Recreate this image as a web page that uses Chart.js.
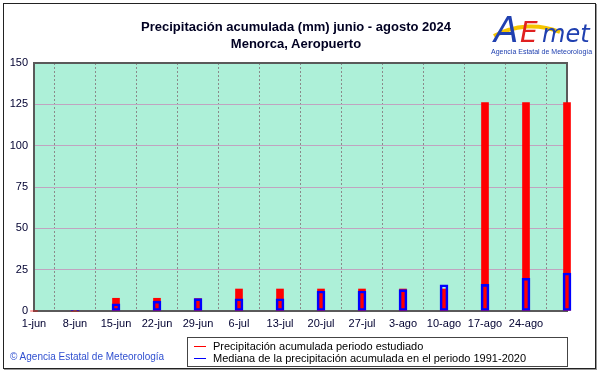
<!DOCTYPE html>
<html>
<head>
<meta charset="utf-8">
<script src="https://cdn.jsdelivr.net/npm/chart.js@4"></script>
<style>
  body { margin: 0; background: #fff; }
  #wrap { position: relative; width: 601px; height: 374px; font-family: "Liberation Sans", Arial, sans-serif; }
  #frame { position: absolute; left: 3px; top: 3px; width: 591px; height: 364px; border: 1px solid #222; box-shadow: 1px 1px 0 #999; }
  #title { position: absolute; left: 0; width: 592px; top: 18px; text-align: center; font-weight: bold; font-size: 13px; line-height: 17px; color: #000022; }
  #legend { position: absolute; left: 187px; top: 337px; width: 379px; height: 28px; border: 1px solid #444; font-size: 11px; color: #000; }
  #legend div { position: absolute; left: 6px; height: 12px; line-height: 12px; }
  #copy { position: absolute; left: 10px; top: 351px; font-size: 10px; color: #3050d0; }
  #logo { position: absolute; left: 488px; top: 4px; }
  canvas { position: absolute; left: 0; top: 0; }
</style>
</head>
<body>
<div id="wrap">
  <canvas id="chart" width="601" height="374"></canvas>
  <div id="frame"></div>
  <div id="title">Precipitación acumulada (mm) junio - agosto 2024<br>Menorca, Aeropuerto</div>
  <svg id="logo" width="106" height="54">
    <path d="M6 32 C28 20, 52 20, 72 28" stroke="#f5c400" stroke-width="4" fill="none"/>
    <text x="6" y="38" font-family="DejaVu Sans" font-style="italic" font-weight="300" font-size="36" fill="#2040b0">A</text>
    <text x="32" y="38" font-family="DejaVu Sans" font-style="italic" font-size="28" fill="#e02020">E</text>
    <text x="54" y="38" font-family="DejaVu Sans" font-style="italic" font-size="24" fill="#2040b0">met</text>
    <text x="3" y="50" font-family="Liberation Sans" font-size="7" fill="#2040b0">Agencia Estatal de Meteorología</text>
  </svg>
  <div id="legend">
    <div style="top:2px"><svg width="12" height="12" style="vertical-align:top;margin-right:7px"><line x1="0" y1="6.5" x2="12" y2="6.5" stroke="#ff0000" stroke-width="1"/></svg>Precipitación acumulada periodo estudiado</div>
    <div style="top:14px"><svg width="12" height="12" style="vertical-align:top;margin-right:7px"><line x1="0" y1="6.5" x2="12" y2="6.5" stroke="#0000ff" stroke-width="1"/></svg>Mediana de la precipitación acumulada en el periodo 1991-2020</div>
  </div>
  <div id="copy">© Agencia Estatal de Meteorología</div>
</div>
<script>
const dates = ['1-jun', '8-jun', '15-jun', '22-jun', '29-jun', '6-jul', '13-jul', '20-jul', '27-jul', '3-ago', '10-ago', '17-ago', '24-ago', '31-ago'];
const observed = [0, 0, 7.7, 7.7, 7.5, 13.3, 13.3, 13.3, 13.3, 13.3, 13.3, 126, 126, 126];
const median = [0, 0.4, 4.4, 6.0, 7.5, 7.4, 7.4, 12.1, 12.1, 12.9, 15.9, 16.1, 19.8, 23.0];
const yTicks = [0, 25, 50, 75, 100, 125, 150];

// plot background + box
const plotBox = {
    id: 'plotBox',
    beforeDraw(chart) {
        const a = chart.chartArea, ctx = chart.ctx;
        ctx.save();
        ctx.fillStyle = '#adf0d8';
        ctx.fillRect(a.left, a.top, a.right - a.left, a.bottom - a.top);
        ctx.restore();
    },
    beforeDatasetsDraw(chart) {
        const a = chart.chartArea, ctx = chart.ctx;
        ctx.save();
        ctx.strokeStyle = '#5a5a5a';
        ctx.lineWidth = 2;
        ctx.strokeRect(a.left, a.top, a.right - a.left, a.bottom - a.top);
        ctx.restore();
    }
};

new Chart(document.getElementById('chart'), {
    type: 'bar',
    data: {
        labels: dates,
        datasets: [
            {
                label: 'Precipitación acumulada periodo estudiado',
                data: observed,
                backgroundColor: '#ff0000',
                barThickness: 7,
                grouped: false,
                order: 1,
            },
            {
                label: 'Mediana de la precipitación acumulada en el periodo 1991-2020',
                data: median,
                backgroundColor: 'rgba(0,0,0,0)',
                borderColor: '#0000ff',
                borderWidth: 2,
                borderSkipped: false,
                barThickness: 8,
                grouped: false,
                order: 0,
            },
        ],
    },
    options: {
        responsive: false,
        animation: false,
        layout: { padding: { left: 0, right: 34, top: 63, bottom: 43 } },
        plugins: { legend: { display: false }, title: { display: false }, tooltip: { enabled: false } },
        datasets: { bar: { clip: false } },
        scales: {
            x: {
                offset: false,
                grid: { color: '#8a8a8a', lineWidth: 1, drawTicks: false },
                border: { display: false, dash: [2, 2] },
                ticks: {
                    color: '#000030',
                    font: { family: 'Liberation Sans', size: 11 },
                    padding: 6,
                    maxRotation: 0,
                    autoSkip: false,
                    callback: (v, i) => i === dates.length - 1 ? '' : dates[i],
                },
                afterFit: s => { s.height = 20; },
            },
            y: {
                min: 0,
                max: 150,
                afterBuildTicks: s => { s.ticks = yTicks.map(v => ({ value: v })); },
                grid: { color: '#c0a4c0', lineWidth: 1, drawTicks: false },
                border: { display: false },
                ticks: {
                    color: '#000030',
                    font: { family: 'Liberation Sans', size: 11 },
                    padding: 6,
                },
                afterFit: s => { s.width = 34; },
            },
        },
    },
    plugins: [plotBox],
});
</script>
</body>
</html>
